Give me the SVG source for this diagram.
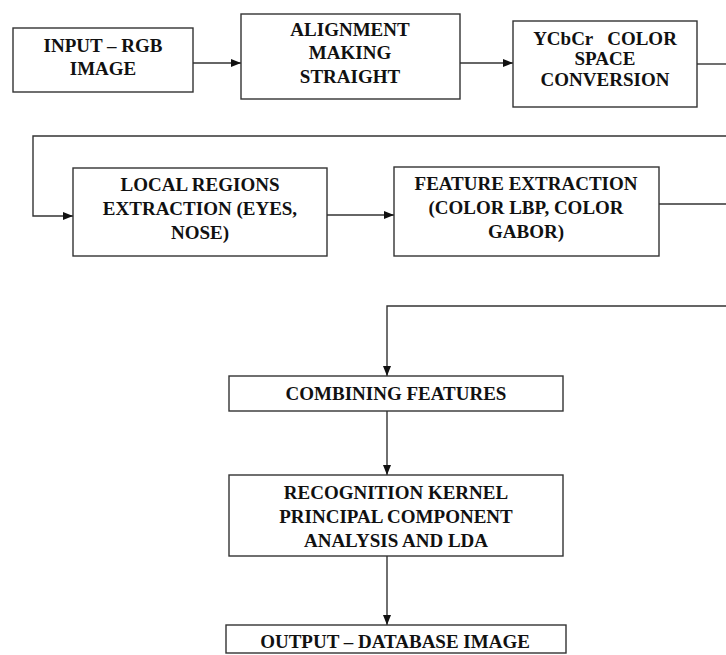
<svg xmlns="http://www.w3.org/2000/svg" width="726" height="655" viewBox="0 0 726 655">
<style>
.box{fill:#fff;stroke:#333;stroke-width:1.4}
.t{font-family:"Liberation Serif","Times New Roman",serif;font-weight:bold;font-size:19px;fill:#111;text-anchor:middle}
.c{fill:none;stroke:#333;stroke-width:1.4}
</style>
<defs>
<marker id="ah" markerWidth="10" markerHeight="8" refX="10" refY="4" orient="auto" markerUnits="userSpaceOnUse">
<path d="M0,0 L10,4 L0,8 Z" fill="#111"/>
</marker>
</defs>
<rect width="726" height="655" fill="#fff"/>
<g id="connectors">
<path class="c" d="M193,63 H241" marker-end="url(#ah)"/>
<path class="c" d="M460,63 H513" marker-end="url(#ah)"/>
<path class="c" d="M697,64 H726"/>
<path class="c" d="M726,136 H33 V216 H73" marker-end="url(#ah)"/>
<path class="c" d="M327,215 H394" marker-end="url(#ah)"/>
<path class="c" d="M659,204 H726"/>
<path class="c" d="M726,306 H387 V376" marker-end="url(#ah)"/>
<path class="c" d="M387,411 V475" marker-end="url(#ah)"/>
<path class="c" d="M387,556 V625" marker-end="url(#ah)"/>
</g>
<g id="input">
<rect class="box" x="13" y="28" width="180" height="64"/>
<text class="t" x="103" y="52">INPUT – RGB</text>
<text class="t" x="103" y="75">IMAGE</text>
</g>
<g id="alignment">
<rect class="box" x="241" y="14" width="219" height="85"/>
<text class="t" x="350" y="36">ALIGNMENT</text>
<text class="t" x="350" y="58.5">MAKING</text>
<text class="t" x="350" y="82.5">STRAIGHT</text>
</g>
<g id="ycbcr">
<rect class="box" x="513" y="21" width="184" height="86"/>
<text class="t" x="605" y="44.5" xml:space="preserve">YCbCr   COLOR</text>
<text class="t" x="605" y="65">SPACE</text>
<text class="t" x="605" y="86">CONVERSION</text>
</g>
<g id="local">
<rect class="box" x="73" y="168" width="254" height="88"/>
<text class="t" x="200" y="190.5">LOCAL REGIONS</text>
<text class="t" x="200" y="214.5">EXTRACTION (EYES,</text>
<text class="t" x="200" y="238.5">NOSE)</text>
</g>
<g id="feature">
<rect class="box" x="394" y="167" width="265" height="89"/>
<text class="t" x="526" y="190">FEATURE EXTRACTION</text>
<text class="t" x="526" y="214">(COLOR LBP, COLOR</text>
<text class="t" x="526" y="237.5">GABOR)</text>
</g>
<g id="combining">
<rect class="box" x="229" y="376" width="334" height="35"/>
<text class="t" x="396" y="399.5">COMBINING FEATURES</text>
</g>
<g id="recognition">
<rect class="box" x="229" y="475" width="334" height="81"/>
<text class="t" x="396" y="499">RECOGNITION KERNEL</text>
<text class="t" x="396" y="523">PRINCIPAL COMPONENT</text>
<text class="t" x="396" y="547">ANALYSIS AND LDA</text>
</g>
<g id="output">
<rect class="box" x="226" y="625" width="340" height="28"/>
<text class="t" x="395" y="647.5">OUTPUT – DATABASE IMAGE</text>
</g>
</svg>
